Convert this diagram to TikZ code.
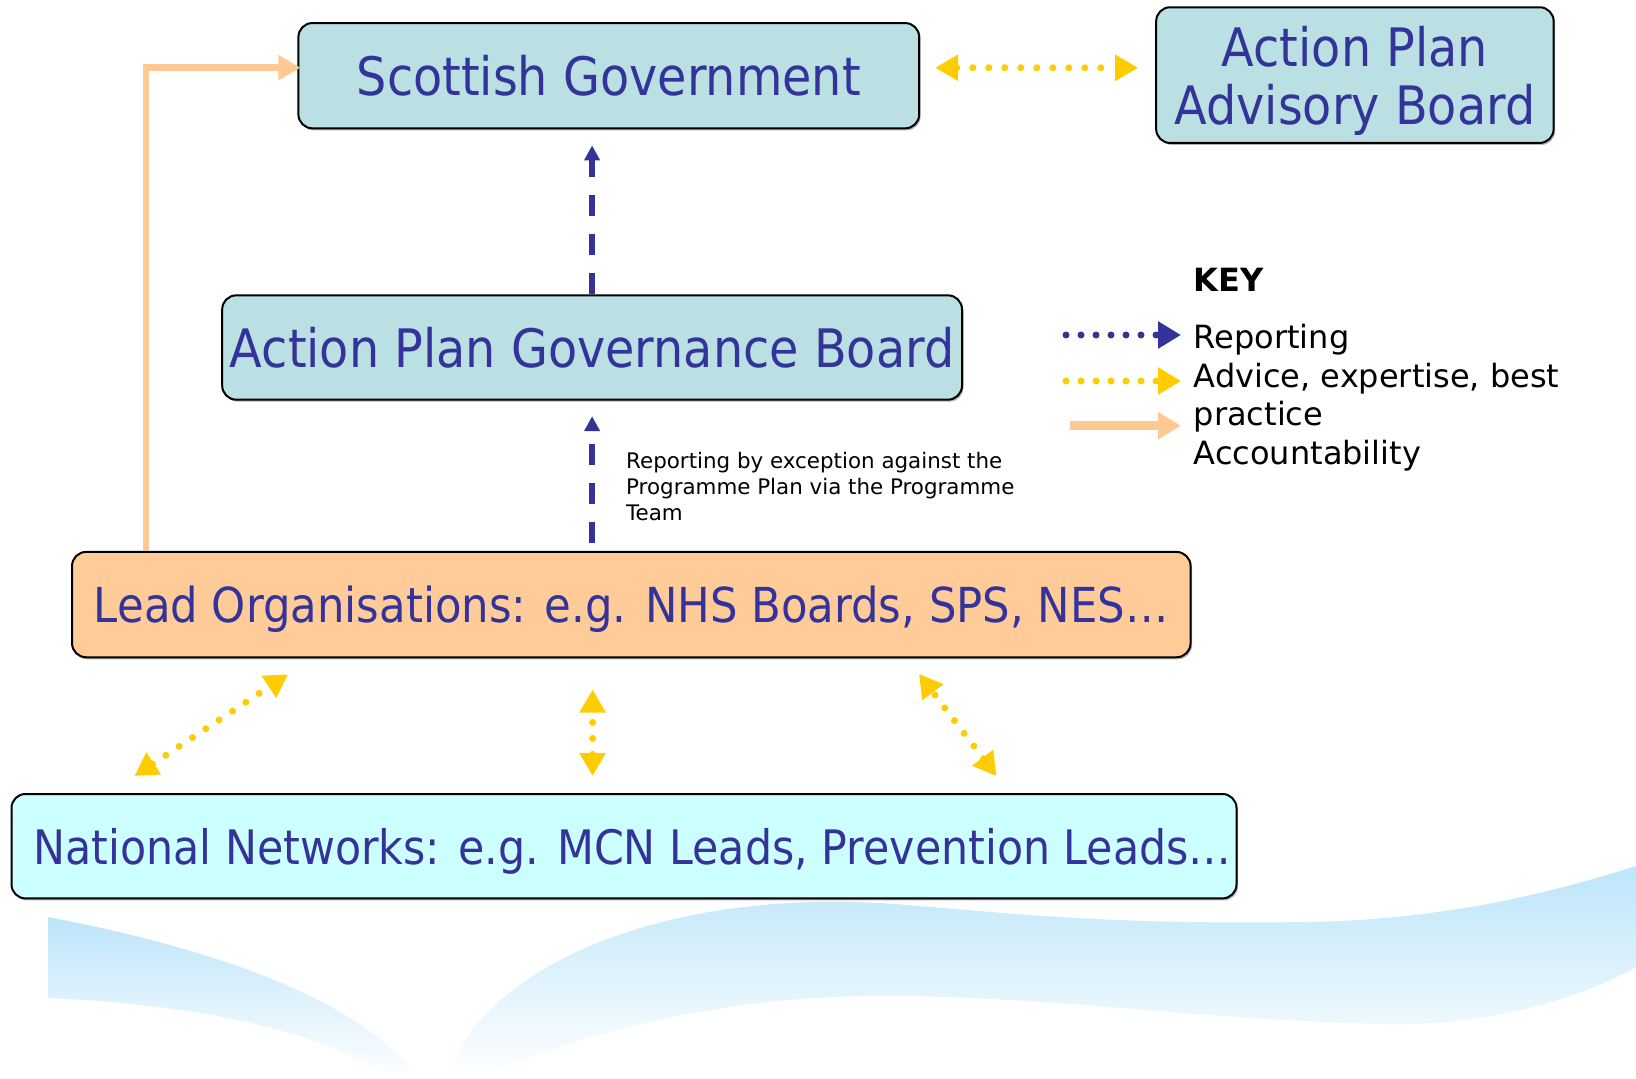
\documentclass[tikz,border=0pt]{standalone}
\usepackage{fontspec}
\setmainfont{DejaVu Sans}
\newfontfamily\boxfont[FakeStretch=0.9]{DejaVu Sans}
\usetikzlibrary{arrows.meta,shadows}
\definecolor{boxblue}{HTML}{BBE0E3}
\definecolor{txtblue}{HTML}{333399}
\definecolor{leadorange}{HTML}{FFCC99}
\definecolor{netcyan}{HTML}{CCFFFF}
\definecolor{adviceyellow}{HTML}{FFCC00}
\definecolor{accpeach}{HTML}{FFC993}
\definecolor{waveblue}{HTML}{BDE5FA}
\tikzset{
  board/.style={draw=black, line width=2pt, rounded corners=14pt, fill=boxblue, text=txtblue,
    inner sep=0pt, align=center, text depth=0pt, font=\boxfont\fontsize{53}{58.3}\selectfont,
    drop shadow={shadow xshift=1.5pt, shadow yshift=-2pt, fill=black!60}},
  leadbox/.style={board, fill=leadorange, font=\boxfont\fontsize{48.2}{53}\selectfont},
  netbox/.style={board, fill=netcyan, font=\boxfont\fontsize{47.5}{52}\selectfont},
  report/.style={draw=txtblue, line width=5.3pt, dash pattern=on 21pt off 18pt,
    -{Triangle[length=15pt,width=15pt]}},
  advice/.style={draw=adviceyellow, line width=7pt, line cap=round, dash pattern=on 0pt off 16pt,
    {Triangle[length=23pt,width=25pt]}-{Triangle[length=23pt,width=25pt]}},
  account/.style={draw=accpeach, line width=6.5pt, -{Triangle[length=22pt,width=24pt]}},
  keyreport/.style={draw=txtblue, line width=7pt, line cap=round, dash pattern=on 0pt off 15pt,
    -{Triangle[length=23pt,width=26pt]}},
  keyadvice/.style={keyreport, draw=adviceyellow},
  keyaccount/.style={draw=accpeach, line width=9pt, -{Triangle[length=23pt,width=26pt]}}
}
\begin{document}
\begin{tikzpicture}[x=1pt,y=-1pt]
  \useasboundingbox (0,0) rectangle (1636,1079);
  % background waves
  \shade[top color=waveblue, bottom color=white] (48,917) -- (48,998)
    .. controls (200,1005) and (320,1030) .. (392,1079) -- (420,1079)
    .. controls (360,1000) and (220,950) .. cycle; %left leaf
  \shade[top color=waveblue, bottom color=white] (449,1079)
    .. controls (470,980) and (650,880) .. (918,906)
    .. controls (1000,912) and (1100,925) .. (1305,922)
    .. controls (1450,920) and (1560,890) .. (1636,866) -- (1636,967)
    .. controls (1560,1010) and (1450,1030) .. (1357,1023)
    .. controls (1200,1020) and (1000,990) .. (835,997)
    .. controls (650,1005) and (520,1060) .. (478,1079) -- cycle; %right wave

  \node[board, minimum width=620.8pt, minimum height=105.3pt] (sg) at (608.8,75.7) {Scottish Government};
  \node[board, minimum width=397.5pt, minimum height=135.7pt] (apab) at (1354.9,75.1) {Action Plan\\Advisory Board};
  \node[board, minimum width=739.8pt, minimum height=104.3pt] (apgb) at (592.1,347.5) {Action Plan Governance Board};
  \node[leadbox, minimum width=1118.5pt, minimum height=105.3pt] (lead) at (631.3,604.6) {Lead Organisations: e.g. NHS Boards, SPS, NES\dots};
  \node[netbox, minimum width=1225pt, minimum height=104.4pt] (nn) at (624,846.2) {\hspace*{17pt}National Networks: e.g. MCN Leads, Prevention Leads\dots};

  \node[anchor=west, inner sep=0pt, align=left, font=\fontsize{21.4}{25.6}\selectfont] (note) at (626,486.5)
    {Reporting by exception against the\\Programme Plan via the Programme\\Team};

  % key
  \node[anchor=west, inner sep=0pt, font=\bfseries\fontsize{32}{38.7}\selectfont] (key) at (1193.6,279.6) {KEY};
  \node[anchor=west, inner sep=0pt, align=left, font=\fontsize{32}{38.7}\selectfont] (keytext) at (1193.6,397.8)
    {Reporting\\Advice, expertise, best\\practice\\Accountability};
  \coordinate (krep) at (1066,335);
  \coordinate (kadv) at (1066,381);
  \coordinate (kacc) at (1069.5,425.7);
  \draw[keyreport] (krep) -- ++(115,0);
  \draw[keyadvice] (kadv) -- ++(115,0);
  \draw[keyaccount] (kacc) -- ++(111.5,0);

  % connectors
  \draw[report] (apgb.north) -- ([yshift=-16pt]apgb.north |- sg.south); %to government
  \draw[report] ([yshift=8pt]apgb.south |- lead.north) -- ([yshift=-15.5pt]apgb.south); %to governance board
  \draw[advice] ([xshift=15pt,yshift=8pt]sg.east) -- ([xshift=-17pt,yshift=7.3pt]apab.west);
  \draw[account] ([xshift=75pt]lead.north west) |- ([xshift=3pt,yshift=8pt]sg.west);
  \draw[advice] ([xshift=124pt,yshift=17pt]nn.north west) -- ([xshift=217pt,yshift=-16pt]lead.south west);
  \draw[advice] ([xshift=-31.4pt,yshift=17pt]nn.north) -- ([xshift=-38.7pt,yshift=-31.3pt]lead.south);
  \draw[advice] ([xshift=372.5pt,yshift=17pt]nn.north) -- ([xshift=287.7pt,yshift=-15.7pt]lead.south);
\end{tikzpicture}
\end{document}
